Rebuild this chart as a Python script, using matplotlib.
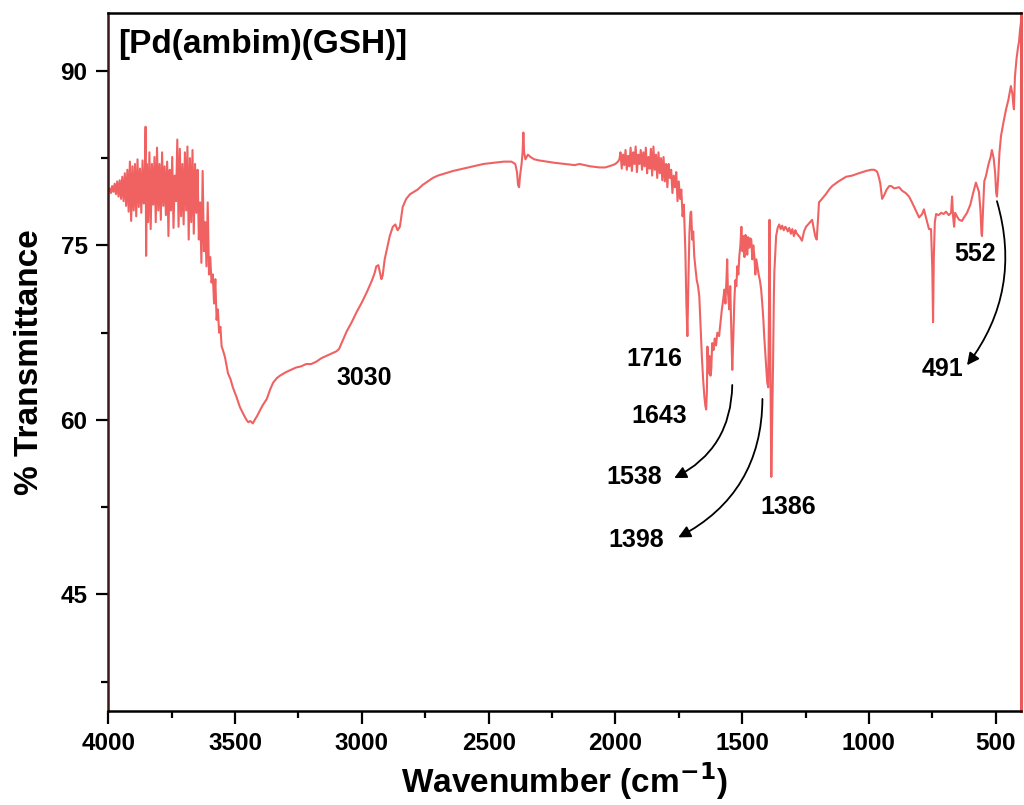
import numpy as np
import matplotlib.pyplot as plt
from matplotlib.ticker import MultipleLocator

plt.rcParams['font.family'] = ['Liberation Sans', 'DejaVu Sans']
plt.rcParams['font.weight'] = 'bold'

# noisy O-H / N-H region, 4000-3550
wn_a = [4000, 3995, 3990, 3985, 3980, 3975, 3970, 3965, 3960, 3955, 3950, 3945, 3940, 3935,
        3930, 3925, 3920, 3915, 3910, 3905, 3900, 3895, 3890, 3885, 3880, 3875, 3870, 3865,
        3860, 3856, 3853, 3851, 3848, 3843, 3838, 3833, 3828, 3823, 3818, 3813, 3808, 3803,
        3798, 3793, 3788, 3783, 3778, 3773, 3768, 3763, 3758, 3753, 3748, 3743, 3738, 3733,
        3728, 3723, 3718, 3713, 3708, 3703, 3698, 3693, 3688, 3683, 3678, 3673, 3668, 3663,
        3658, 3653, 3648, 3643, 3638, 3633, 3628, 3623, 3618, 3613, 3608, 3603, 3598, 3593,
        3588, 3583, 3578, 3573, 3568, 3563, 3558, 3553]
t_a = [79.7, 79.9, 79.5, 80.1, 79.6, 80.3, 79.4, 80.5, 79.2, 80.6, 79.0, 80.9, 78.8, 81.2,
       78.4, 81.5, 77.9, 82.2, 77.1, 81.8, 78.0, 82.0, 77.5, 82.4, 78.3, 81.6, 77.8, 82.3,
       78.6, 81.0, 85.2, 74.1, 82.0, 77.0, 83.0, 76.4, 82.0, 78.5, 82.6, 77.0, 83.4, 78.0,
       82.0, 77.2, 83.0, 78.4, 81.8, 77.6, 82.2, 75.8, 81.5, 78.0, 82.6, 76.5, 81.0, 78.8,
       84.1, 76.6, 83.3, 77.5, 82.0, 76.8, 83.0, 78.0, 83.5, 75.5, 82.5, 77.0, 83.2, 76.0,
       82.0, 77.8, 81.5, 75.5, 78.7, 73.5, 81.4, 74.5, 77.0, 73.2, 78.7, 72.5, 74.0, 71.8,
       72.5, 70.0, 72.1, 68.6, 69.5, 67.5, 68.0, 66.3]

# broad band and plateau, 3548-1984
wn_b = [3548, 3540, 3528, 3518, 3509, 3495, 3481, 3465, 3455, 3448, 3440, 3430, 3420, 3414,
        3400, 3390, 3375, 3362, 3350, 3335, 3323, 3300, 3280, 3260, 3240, 3220, 3200, 3180,
        3160, 3140, 3120, 3100, 3090, 3080, 3060, 3040, 3020, 3000, 2980, 2960, 2950, 2943,
        2935, 2928, 2923, 2918, 2910, 2900, 2890, 2878, 2868, 2859, 2850, 2839, 2825, 2810,
        2795, 2780, 2760, 2740, 2720, 2700, 2670, 2640, 2600, 2560, 2520, 2480, 2440, 2410,
        2395, 2388, 2384, 2380, 2376, 2370, 2366, 2363, 2360, 2355, 2345, 2335, 2320, 2300,
        2270, 2240, 2200, 2160, 2142, 2100, 2063, 2040, 2011, 2000, 1990, 1984]
t_b = [66.0, 65.4, 64.0, 63.5, 62.8, 62.0, 61.1, 60.4, 60.0, 59.8, 59.9, 59.7, 60.1, 60.3,
       60.9, 61.3, 61.8, 62.6, 63.2, 63.6, 63.8, 64.1, 64.3, 64.5, 64.6, 64.8, 64.8, 65.0,
       65.3, 65.5, 65.7, 65.9, 66.1, 66.6, 67.6, 68.4, 69.3, 70.1, 71.0, 72.0, 72.6, 73.2,
       73.3, 72.6, 72.1, 72.4, 73.8, 74.8, 75.8, 76.6, 76.8, 76.3, 76.6, 78.3, 79.0, 79.4,
       79.6, 79.8, 80.2, 80.5, 80.8, 81.0, 81.2, 81.4, 81.6, 81.8, 82.0, 82.1, 82.2, 82.2,
       82.0, 81.3, 80.2, 80.0, 81.0, 82.0, 83.0, 84.7, 83.0, 82.4, 82.8, 82.6, 82.4, 82.3,
       82.2, 82.1, 82.0, 81.9, 82.0, 81.8, 81.7, 81.7, 81.9, 82.0, 82.2, 82.4]

# fingerprint region, 1980-1200
wn_c = [1980, 1975, 1970, 1965, 1960, 1955, 1950, 1945, 1940, 1935, 1930, 1925, 1920, 1915,
        1910, 1905, 1900, 1895, 1890, 1885, 1880, 1875, 1870, 1865, 1860, 1855, 1850, 1845,
        1840, 1835, 1830, 1825, 1820, 1815, 1810, 1805, 1800, 1795, 1790, 1785, 1780, 1775,
        1770, 1765, 1760, 1755, 1750, 1745, 1740, 1735, 1730, 1728, 1724, 1720, 1716, 1712,
        1708, 1704, 1701, 1697, 1693, 1689, 1684, 1679, 1674, 1669, 1664, 1659, 1654, 1649,
        1645, 1642, 1639, 1637, 1633, 1629, 1625, 1622, 1618, 1613, 1608, 1603, 1598, 1591,
        1585, 1580, 1575, 1570, 1566, 1562, 1559, 1556, 1551, 1547, 1543, 1539, 1535, 1531,
        1527, 1523, 1519, 1515, 1511, 1507, 1503, 1499, 1495, 1491, 1487, 1484, 1480, 1476,
        1472, 1468, 1464, 1460, 1456, 1452, 1448, 1444, 1440, 1435, 1430, 1425, 1420, 1416,
        1413, 1409, 1405, 1401, 1397, 1394, 1392, 1390, 1387, 1385, 1383, 1381, 1378, 1375,
        1373, 1369, 1366, 1360, 1354, 1348, 1342, 1336, 1330, 1326, 1320, 1314, 1308, 1302,
        1296, 1290, 1287, 1280, 1272, 1264, 1256, 1248, 1240, 1232, 1224, 1218, 1212, 1206,
        1200]
t_c = [83.0, 81.6, 82.8, 81.9, 83.2, 81.5, 82.7, 81.8, 83.4, 81.4, 83.0, 82.0, 83.5, 81.3,
       82.8, 82.0, 83.2, 81.5, 83.0, 81.8, 83.4, 81.2, 82.6, 81.6, 83.3, 81.0, 83.5, 81.5,
       82.8, 80.8, 83.0, 81.2, 82.5, 80.6, 82.6, 80.5, 82.0, 80.0, 82.0, 80.8, 81.5, 79.5,
       81.0, 80.0, 81.3, 78.8, 80.5, 79.0, 79.8, 77.5, 78.5, 77.2, 74.5, 70.0, 67.2, 72.0,
       76.0, 77.8, 77.9, 75.5, 76.2, 74.1, 73.0, 72.0, 71.5, 70.6, 68.0, 65.5, 63.5, 62.0,
       61.2, 60.9, 62.5, 66.3, 64.0, 65.5, 63.8, 64.3, 66.6, 66.0, 67.0, 66.4, 67.5, 67.2,
       68.5, 69.5, 70.3, 71.2, 70.0, 72.0, 73.8, 71.0, 69.5, 71.5, 68.0, 64.3, 67.0, 70.1,
       72.0, 71.5, 73.2, 72.5, 74.1, 75.0, 76.6, 74.5, 75.8, 74.0, 75.9, 75.8, 74.2, 75.7,
       74.8, 75.6, 75.5, 73.8, 75.0, 74.1, 72.5, 73.8, 73.2, 72.5, 72.0, 71.2, 69.8, 68.5,
       67.2, 65.8, 64.5, 63.2, 62.8, 70.0, 77.2, 70.0, 60.0, 55.1, 58.0, 61.5, 65.0, 70.5,
       72.7, 74.5, 75.8, 76.5, 76.8, 76.4, 76.7, 76.3, 76.6, 76.5, 76.2, 76.5, 76.0, 76.4,
       75.8, 76.3, 76.1, 75.9, 75.7, 75.4, 76.2, 76.6, 76.8, 77.0, 77.2, 76.5, 75.8, 75.5,
       77.5]

# low wavenumber region, 1197-400
wn_d = [1197, 1185, 1170, 1157, 1145, 1120, 1090, 1066, 1040, 1011, 991, 980, 971, 967,
        960, 955, 948, 940, 930, 920, 912, 900, 881, 869, 855, 842, 830, 815, 802, 790,
        783, 775, 763, 755, 750, 747, 744, 740, 735, 725, 715, 705, 696, 685, 676, 672,
        668, 664, 660, 650, 644, 633, 625, 613, 600, 590, 578, 572, 566, 560, 556, 554,
        550, 545, 538, 528, 520, 515, 508, 502, 498, 495, 491, 485, 479, 470, 459, 450,
        440, 434, 430, 428, 424, 418, 412, 408, 404, 400]
t_d = [78.7, 79.0, 79.4, 79.8, 80.1, 80.5, 80.9, 81.0, 81.2, 81.4, 81.5, 81.5, 81.4, 81.3,
       80.8, 80.3, 79.0, 79.3, 79.8, 80.1, 80.1, 79.9, 80.0, 79.7, 79.5, 79.2, 78.7, 78.0,
       77.4, 77.7, 78.1, 77.4, 76.4, 76.4, 73.0, 68.4, 74.0, 77.0, 77.7, 77.6, 77.8, 77.7,
       77.9, 77.6, 77.8, 79.2, 77.5, 76.6, 77.8, 77.4, 77.2, 77.1, 77.4, 77.8, 78.5, 79.4,
       80.4, 80.0, 79.6, 78.0, 76.0, 75.8, 78.0, 80.5, 81.0, 82.0, 82.6, 83.2, 82.5, 81.2,
       79.5, 79.2, 80.5, 83.0, 84.4, 85.5, 86.7, 87.5, 88.7, 88.0, 87.0, 86.7, 89.5, 91.0,
       92.0, 92.5, 93.5, 94.2]

wavenumber = np.array(wn_a + wn_b + wn_c + wn_d)
transmittance = np.array(t_a + t_b + t_c + t_d)

# peak labels and their positions (data units)
peak_labels = ['3030', '1716', '1643', '1538', '1398', '1386', '552', '491']
label_x = [2989, 1846, 1826, 1925, 1917, 1318, 582, 708]
label_y = [63.6, 65.2, 60.3, 55.1, 49.7, 52.5, 74.3, 64.4]
arrows = [  # (x_start, y_start, x_end, y_end, rad)
    (1539, 63.0, 1768, 55.0, -0.3),
    (1420, 61.8, 1752, 49.9, -0.3),
    (495, 78.8, 613, 64.7, -0.25),
]

fig = plt.figure(figsize=(10.24, 8.05), dpi=100)
ax = fig.add_axes([0.1058, 0.1171, 0.8913, 0.8671])

ax.plot(wavenumber, transmittance, color='#f06262', lw=1.5)

ax.set_xlim(4000, 400)
ax.set_ylim(35, 95)
ax.xaxis.set_minor_locator(MultipleLocator(250))
ax.yaxis.set_major_locator(MultipleLocator(15))
ax.yaxis.set_minor_locator(MultipleLocator(7.5))
ax.set_xticks([4000, 3500, 3000, 2500, 2000, 1500, 1000, 500])
ax.tick_params(which='major', direction='out', length=9, width=1.6, labelsize=17.5, pad=6)
ax.tick_params(which='minor', direction='out', length=5, width=1.6)
ax.tick_params(top=False, right=False, which='both')

for s in ['top', 'bottom', 'left']:
    ax.spines[s].set_linewidth(1.8)
ax.spines['left'].set_color('#3a1818')
ax.spines['right'].set_linewidth(2.2)
ax.spines['right'].set_color('#ea5a5a')

ax.set_xlabel('Wavenumber (cm$^{\\mathbf{-1}}$)', fontsize=24, fontweight='bold', labelpad=4)
ax.set_ylabel('% Transmittance', fontsize=24, fontweight='bold', labelpad=11)

ax.text(0.011, 0.954, '[Pd(ambim)(GSH)]', transform=ax.transAxes, fontsize=24,
        fontweight='bold', ha='left', va='center')

for lab, lx, ly in zip(peak_labels, label_x, label_y):
    ax.text(lx, ly, lab, fontsize=18, fontweight='bold', ha='center', va='center')

for x0, y0, x1, y1, rad in arrows:
    ax.annotate('', xy=(x1, y1), xytext=(x0, y0),
                arrowprops=dict(arrowstyle='-|>', color='black', lw=1.3,
                                connectionstyle='arc3,rad=%s' % rad,
                                shrinkA=0, shrinkB=0, mutation_scale=18))

fig.savefig('out.png', dpi=100)
